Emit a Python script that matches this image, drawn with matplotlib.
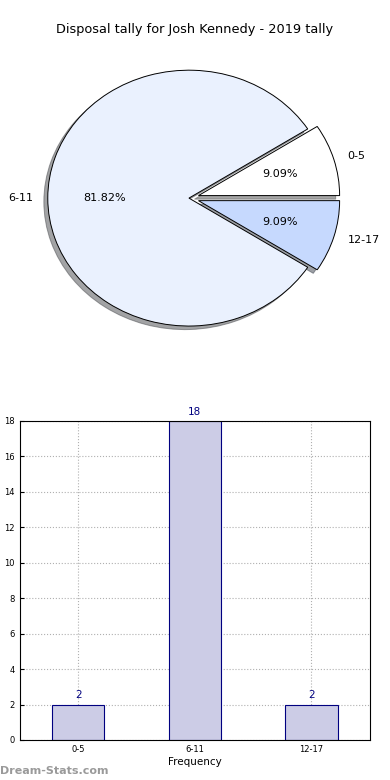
"""Disposal tally pie + bar frequency chart"""

import matplotlib
matplotlib.use('Agg')
import matplotlib.pyplot as plt

# data
categories = ["0-5", "6-11", "12-17"]
counts = [2, 18, 2]
pie_colors = ["#ffffff", "#eaf1fe", "#c6d9fe"]
explode = [0.07, 0.0, 0.07]
yticks = list(range(0, 20, 2))

title = "Disposal tally for Josh Kennedy - 2019 tally"

fig = plt.figure(figsize=(3.9, 7.8), dpi=100)

# pie
ax = fig.add_axes([0.032, 0.541, 0.905, 0.41])
wedges, texts, autotexts = ax.pie(counts, labels=categories, colors=pie_colors, explode=explode,
                                  autopct="%1.2f%%", startangle=0, shadow=True,
                                  wedgeprops={"edgecolor": "black", "linewidth": 0.7},
                                  textprops={"fontsize": 8})
ax.set_aspect("auto")
fig.text(0.5, 1 - 30 / 780, title, ha="center", va="center", fontsize=9.3)

# bar
ax = fig.add_axes([0.051, 0.0513, 0.897, 0.409])
xs = range(len(categories))
ax.bar(xs, counts, width=0.45, color="#cccce6", edgecolor="#000080", linewidth=0.8, zorder=2)
for x, c in zip(xs, counts):
    ax.text(x, c + 0.25, str(c), ha="center", va="bottom", fontsize=7.5, color="#000080")
ax.set_xlim(-0.5, 2.5)
ax.set_ylim(0, 18)
ax.set_yticks(yticks)
ax.set_xticks(list(xs))
ax.set_xticklabels(categories)
ax.tick_params(labelsize=6, direction="in", length=3)
ax.grid(color="#b0b0b0", linestyle=":", linewidth=0.8, zorder=0)
ax.set_axisbelow(True)
ax.set_xlabel("Frequency", fontsize=7.5, labelpad=2)
ax.set_ylabel("Occurrences", fontsize=7.5, labelpad=4)

fig.text(0.0, 1 - 771 / 780, "Dream-Stats.com", ha="left", va="center",
         fontsize=8, fontweight="bold", color="#9a9a9a")

fig.savefig("out.png", dpi=100)
plt.close(fig)
